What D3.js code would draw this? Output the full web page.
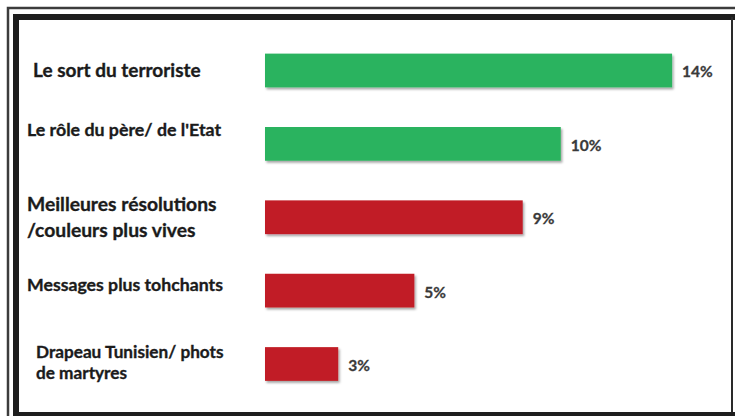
<!DOCTYPE html>
<html>
<head>
<meta charset="utf-8">
<script src="https://cdn.jsdelivr.net/npm/d3@7"></script>
<style>
  body { margin: 0; background: #fff; }
  svg { display: block; }
  .cat { font-family: Lato, "Open Sans", sans-serif; font-weight: 700; fill: #1b1b1b; stroke: #1b1b1b; stroke-width: 0.35px; }
  .pct { font-family: Lato, "Open Sans", sans-serif; font-weight: 700; fill: #3a3a3a; stroke: #3a3a3a; stroke-width: 0.3px; font-size: 15.5px; }
</style>
</head>
<body>
<div class="chart"></div>
<script>
// data
const categories = [
  ['Le sort du terroriste'],
  ['Le rôle du père/ de l\'Etat'],
  ['Meilleures résolutions', '/couleurs plus vives'],
  ['Messages plus tohchants'],
  ['Drapeau Tunisien/ phots', 'de martyres']
];
const values = [13.9, 10.1, 8.8, 5.1, 2.5];
const groups = ['good', 'good', 'bad', 'bad', 'bad'];

const width = 735;
const height = 416;

// small layout tweaks so each label sits like in the original
const labelDx = [6, 0, 0, 0, 9];
const labelDy = [0, -14, 0, -6, -2];
const labelSize = [19, 17.8, 19.3, 17.7, 17.2];
const lineGap = [20, 20, 26, 20, 21];

const color = d3.scaleOrdinal()
  .domain(['good', 'bad'])
  .range(['#2bb35f', '#c11f27']);

const svg = d3.select('.chart')
  .append('svg')
    .attr('width', width)
    .attr('height', height);

// shadow under the bars
const defs = svg.append('defs');
const shadow = defs.append('filter')
  .attr('id', 'shadow')
  .attr('x', '-5%').attr('y', '-20%')
  .attr('width', '115%').attr('height', '160%');
shadow.append('feDropShadow')
  .attr('dx', 1.5).attr('dy', 2)
  .attr('stdDeviation', 1.2)
  .attr('flood-color', '#000')
  .attr('flood-opacity', 0.35);

// frame: thin outer line + thick inner line
svg.append('path')
  .attr('d', `M8,${height} V8 H${width}`)
  .attr('fill', 'none')
  .attr('stroke', '#3c3c3c')
  .attr('stroke-width', 2.5);
svg.append('path')
  .attr('d', `M16,${height} V17 H${width}`)
  .attr('fill', 'none')
  .attr('stroke', '#1e1e1e')
  .attr('stroke-width', 6);
svg.append('line')
  .attr('x1', 732).attr('x2', 732)
  .attr('y1', 17).attr('y2', height)
  .attr('stroke', '#2a2a2a')
  .attr('stroke-width', 2);
svg.append('line')
  .attr('x1', 13).attr('x2', width)
  .attr('y1', 414.5).attr('y2', 414.5)
  .attr('stroke', '#1e1e1e')
  .attr('stroke-width', 5);

const y = d3.scaleBand()
  .domain(d3.range(values.length))
  .range([14, 420.5])
  .padding(0.54);

const x = d3.scaleLinear()
  .domain([0, 14])
  .range([265, 675]);

const rows = svg.append('g')
  .selectAll('.row')
  .data(values)
  .enter()
  .append('g')
    .attr('class', 'row');

rows.append('rect')
  .attr('x', x(0))
  .attr('y', (d, i) => y(i))
  .attr('width', (d) => x(d) - x(0))
  .attr('height', y.bandwidth())
  .attr('fill', (d, i) => color(groups[i]))
  .attr('filter', 'url(#shadow)');

rows.append('text')
  .attr('class', 'pct')
  .attr('x', (d) => x(d) + 10)
  .attr('y', (d, i) => y(i) + y.bandwidth() / 2 + 1.5)
  .attr('dy', '0.35em')
  .text((d) => Math.round(d) + '%');

// category labels, possibly on two lines, centred on the bar
rows.append('text')
  .attr('class', 'cat')
  .style('font-size', (d, i) => labelSize[i] + 'px')
  .each(function (d, i) {
    const lines = categories[i];
    const mid = y(i) + y.bandwidth() / 2 + labelDy[i];
    const first = mid - (lines.length - 1) * lineGap[i] / 2;
    d3.select(this).selectAll('tspan')
      .data(lines)
      .enter()
      .append('tspan')
        .attr('x', 27 + labelDx[i])
        .attr('y', (t, j) => first + j * lineGap[i])
        .attr('dy', '0.35em')
        .text((t) => t);
  });
</script>
</body>
</html>
